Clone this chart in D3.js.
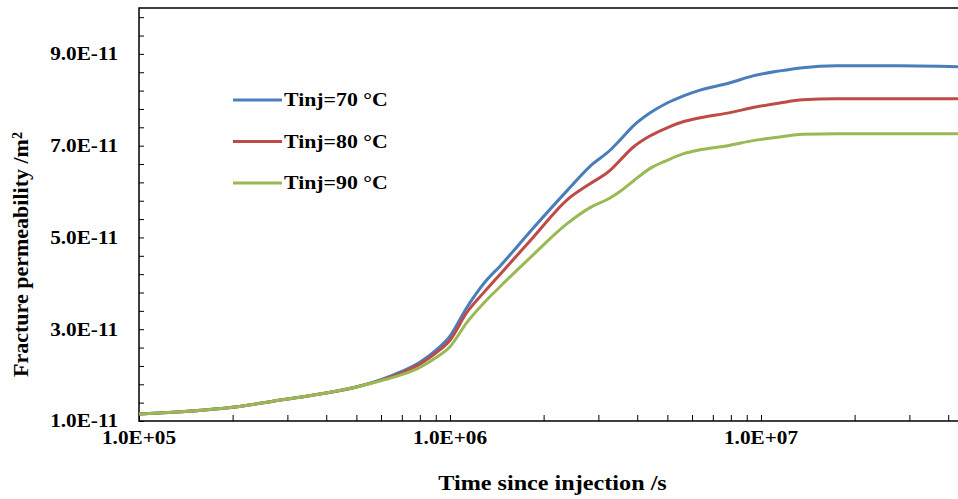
<!DOCTYPE html>
<html>
<head>
<meta charset="utf-8">
<script src="https://d3js.org/d3.v7.min.js"></script>
<style>
  body { margin: 0; background: #fff; }
  text { font-family: "Liberation Serif", "Times New Roman", serif; font-weight: bold; fill: #000; }
</style>
</head>
<body>
<script>

    // Time since injection (s), shared by all series
    var time = [1e5, 2e5, 3e5, 4e5, 5e5, 6e5, 7e5, 8e5, 9e5, 1e6,
                1.134e6, 1.296e6, 1.45e6, 1.85e6, 2.38e6, 2.82e6, 3.27e6, 3.52e6, 3.87e6,
                4.39e6, 4.99e6, 5.61e6, 6.37e6, 7.95e6, 9.42e6, 1.15e7, 1.36e7, 1.75e7,
                2.8e7, 4.3e7];

    // Fracture permeability in units of 1E-11 m2
    var tinj70 = [1.15, 1.30, 1.48, 1.61, 1.74, 1.90, 2.08, 2.28, 2.54, 2.85,
                  3.48, 4.03, 4.38, 5.20, 6.02, 6.55, 6.90, 7.12, 7.42,
                  7.71, 7.93, 8.08, 8.21, 8.37, 8.52, 8.63, 8.70, 8.74,
                  8.74, 8.72];
    var tinj80 = [1.15, 1.30, 1.48, 1.61, 1.74, 1.89, 2.05, 2.24, 2.48, 2.76,
                  3.37, 3.83, 4.20, 5.00, 5.82, 6.17, 6.46, 6.68, 6.96,
                  7.21, 7.39, 7.52, 7.61, 7.72, 7.83, 7.93, 8.00, 8.02,
                  8.02, 8.02];
    var tinj90 = [1.15, 1.30, 1.48, 1.61, 1.74, 1.88, 2.01, 2.17, 2.38, 2.62,
                  3.15, 3.60, 3.93, 4.62, 5.30, 5.65, 5.86, 6.00, 6.22,
                  6.50, 6.68, 6.82, 6.91, 7.01, 7.11, 7.19, 7.25, 7.26,
                  7.26, 7.26];

    var seriesNames = ["Tinj=70 \u00B0C", "Tinj=80 \u00B0C", "Tinj=90 \u00B0C"];
    var seriesColors = ["#4a7ebb", "#be4b48", "#98b954"];
    var seriesValues = [tinj70, tinj80, tinj90];

    var yTicks = [1, 3, 5, 7, 9];
    var xTicks = [1e5, 1e6, 1e7];

    var W = 958, H = 499;
    var margin = {top: 8, right: 0, bottom: 78, left: 139},
        width = W - margin.left - margin.right,
        height = H - margin.top - margin.bottom;

    // the original picture is a bit wider than tall, text is stretched
    var stretch = 1.18;

    var x = d3.scaleLog().domain([1e5, 4.3e7]).range([0, width]);
    var y = d3.scaleLinear().domain([1, 10]).range([height, 0]);

    var svg = d3.select("body").append("svg")
        .attr("width", W)
        .attr("height", H)
        .append("g")
        .attr("transform", "translate(" + margin.left + "," + margin.top + ")");

    function label(px, py, txt, anchor, size) {
        return svg.append("text")
            .attr("transform", "translate(" + px + "," + py + ") scale(" + stretch + ",1)")
            .attr("dy", "0.35em")
            .style("text-anchor", anchor)
            .style("font-size", size + "px")
            .text(txt);
    }

    // minor ticks on y: every 0.4E-11
    var yMinor = d3.range(0, 23).map(function(i) { return 1 + i * 0.4; });
    svg.append("g")
        .call(d3.axisLeft(y).tickValues(yMinor).tickSize(-5).tickFormat(""))
        .call(function(g) { g.select(".domain").remove(); })
        .selectAll("line").attr("stroke", "#000");

    // minor ticks on x: 2..9 in every decade
    var xMinor = [];
    [1e5, 1e6, 1e7].forEach(function(d) {
        for (var k = 1; k <= 9; k++) if (d * k <= 4.3e7) xMinor.push(d * k);
    });
    svg.append("g")
        .attr("transform", "translate(0," + height + ")")
        .call(d3.axisBottom(x).tickValues(xMinor).tickSize(-6).tickFormat(""))
        .call(function(g) { g.select(".domain").remove(); })
        .selectAll("line").attr("stroke", "#000");

    // frame: left, bottom, top
    svg.append("path")
        .attr("d", "M" + width + ",0H0V" + height + "H" + width)
        .attr("fill", "none")
        .attr("stroke", "#000")
        .attr("stroke-width", 1.5);

    // tick labels
    yTicks.forEach(function(d) {
        label(-21, y(d), d.toFixed(1) + "E-11", "end", 18);
    });
    xTicks.forEach(function(d) {
        label(x(d), height + 17, "1.0E+0" + Math.round(Math.log10(d)), "middle", 18);
    });

    // lines
    var line = d3.line()
        .x(function(d) { return x(d[0]); })
        .y(function(d) { return y(d[1]); })
        .curve(d3.curveMonotoneX);

    seriesValues.forEach(function(vals, i) {
        svg.append("path")
            .datum(time.map(function(t, j) { return [t, vals[j]]; }))
            .attr("fill", "none")
            .attr("stroke", seriesColors[i])
            .attr("stroke-width", 3)
            .attr("d", line);
    });

    // legend
    seriesNames.forEach(function(name, i) {
        var gy = 92 + i * 41.5;
        svg.append("line")
            .attr("x1", 94).attr("x2", 143)
            .attr("y1", gy).attr("y2", gy)
            .attr("stroke", seriesColors[i])
            .attr("stroke-width", 3);
        label(145, gy, name, "start", 18.5);
    });

    // axis titles
    label(width / 2 + 4, height + 62, "Time since injection /s", "middle", 20.5);

    var yt = svg.append("text")
        .attr("transform", "translate(" + (-111) + "," + (height / 2 + 40) + ") rotate(-90)")
        .style("text-anchor", "middle")
        .style("font-size", "22px");
    yt.append("tspan").text("Fracture permeability /m");
    yt.append("tspan").attr("dy", "-0.45em").style("font-size", "14px").text("2");

</script>
</body>
</html>
